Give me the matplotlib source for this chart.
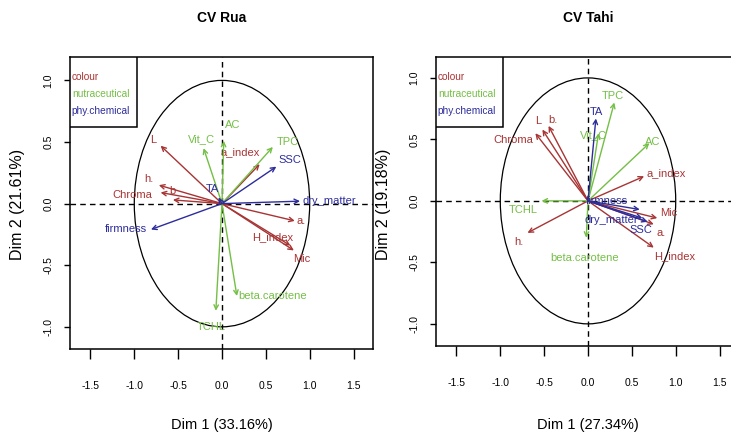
import matplotlib
matplotlib.use("Agg")
import matplotlib.pyplot as plt
from matplotlib import font_manager
from matplotlib.patches import Circle, Rectangle

# police étroite si disponible (les textes R sont assez condensés)
noms = {f.name for f in font_manager.fontManager.ttflist}
etroite = "Liberation Sans Narrow" if "Liberation Sans Narrow" in noms else "Liberation Sans"
plt.rcParams["font.family"] = ["Liberation Sans", "DejaVu Sans"]
plt.rcParams["axes.unicode_minus"] = False

groups = ["colour", "nutraceutical", "phy.chemical"]
group_colors = {"colour": "#A83434", "nutraceutical": "#74BF45", "phy.chemical": "#2C2C9C"}

# CV Rua
rua_vars = ["L", "h.", "Chroma", "b", "a.", "H_index", "Mic", "a_index",
            "AC", "Vit_C", "TPC", "beta.carotene", "TCHL",
            "TA", "SSC", "dry_matter", "firmness"]
rua_dim1 = [-0.70, -0.72, -0.70, -0.56, 0.83, 0.78, 0.82, 0.43,
            0.02, -0.21, 0.58, 0.17, -0.07,
            -0.04, 0.62, 0.89, -0.81]
rua_dim2 = [0.47, 0.15, 0.09, 0.03, -0.14, -0.34, -0.38, 0.32,
            0.51, 0.45, 0.46, -0.75, -0.87,
            0.05, 0.30, 0.02, -0.21]
rua_group = ["colour"] * 8 + ["nutraceutical"] * 5 + ["phy.chemical"] * 4

# CV Tahi
tahi_vars = ["L", "b.", "Chroma", "h.", "a_index", "Mic", "a.", "H_index",
             "TPC", "AC", "Vit_C", "TCHL", "beta.carotene",
             "TA", "firmness", "dry_matter", "SSC"]
tahi_dim1 = [-0.52, -0.45, -0.60, -0.69, 0.64, 0.79, 0.75, 0.75,
             0.30, 0.70, 0.12, -0.53, -0.02,
             0.09, 0.59, 0.62, 0.68]
tahi_dim2 = [0.58, 0.61, 0.55, -0.26, 0.20, -0.14, -0.19, -0.38,
             0.80, 0.47, 0.55, 0.00, -0.30,
             0.67, -0.07, -0.14, -0.17]
tahi_group = ["colour"] * 8 + ["nutraceutical"] * 5 + ["phy.chemical"] * 4

# placement des étiquettes (alignement, décalage en pixels)
rua_lab = [("right", -4, 6), ("right", -5, 6), ("right", -8, -2), ("center", 0, 9),
           ("left", 2, 0), ("right", 3, 8), ("left", -1, -9), ("right", 0, 12),
           ("left", 1, 16), ("center", -2, 9), ("left", 4, 5), ("left", 1, 0),
           ("center", -5, -16),
           ("center", -6, 8), ("left", 2, 7), ("left", 2, 0), ("right", -4, 0)]
tahi_lab = [("center", -4, 9), ("left", 0, 6), ("right", -2, -7), ("right", -4, -9),
            ("left", 2, 3), ("left", 3, 5), ("left", 3, -9), ("left", 0, -9),
            ("center", -1, 7), ("left", -4, 1), ("center", -5, -2), ("right", -4, -9),
            ("center", -2, -20),
            ("center", 0, 6), ("right", -12, 8), ("right", -4, -2), ("right", 5, -8)]

W, H = 731, 436
fig = plt.figure(figsize=(W / 100, H / 100), dpi=100)


def panel(rect, xlim, ylim, title, xlab, ylab, names, d1, d2, grp, labs):
    l, t, r, b = rect
    ax = fig.add_axes([l / W, (H - b) / H, (r - l) / W, (b - t) / H])
    ax.set_xlim(*xlim)
    ax.set_ylim(*ylim)
    for s in ax.spines.values():
        s.set_linewidth(1.1)
    ax.axhline(0, color="black", lw=1, ls=(0, (4, 3)))
    ax.axvline(0, color="black", lw=1, ls=(0, (4, 3)))
    ax.add_patch(Circle((0, 0), 1, fill=False, ec="black", lw=0.9))

    for n, x, y, g, (ha, dx, dy) in zip(names, d1, d2, grp, labs):
        c = group_colors[g]
        ax.annotate("", xy=(x, y), xytext=(0, 0),
                    arrowprops=dict(arrowstyle="->", color=c, lw=1.0,
                                    shrinkA=0, shrinkB=0, mutation_scale=8))
        ax.annotate(n, xy=(x, y), xytext=(dx * 0.72, dy * 0.72),
                    textcoords="offset points", ha=ha, va="center",
                    color=c, fontsize=8, family=etroite)

    # légende en haut à gauche
    lw_, lh_ = 67 / (r - l), 70 / (b - t)
    ax.add_patch(Rectangle((0, 1 - lh_), lw_, lh_, transform=ax.transAxes,
                           fill=True, fc="white", ec="black", lw=1.1, zorder=5))
    for i, g in enumerate(groups):
        ax.text(0.006, 1 - (20 + 17 * i) / (b - t), g, transform=ax.transAxes,
                color=group_colors[g], fontsize=7.3, family=etroite,
                ha="left", va="center", zorder=6)

    ax.set_xticks([-1.5, -1.0, -0.5, 0.0, 0.5, 1.0, 1.5])
    ax.set_yticks([-1.0, -0.5, 0.0, 0.5, 1.0])
    ax.tick_params(axis="x", length=7, width=1, pad=16, labelsize=7.5)
    ax.tick_params(axis="y", length=4, width=1, pad=8, labelsize=7.5)
    for lab in ax.get_xticklabels() + ax.get_yticklabels():
        lab.set_family(etroite)
    for lab in ax.get_yticklabels():
        lab.set_rotation(90)
        lab.set_va("center")

    ax.set_title(title, fontsize=10, fontweight="bold", family=etroite, pad=25)
    ax.set_xlabel(xlab, fontsize=10.5, family=etroite)
    ax.xaxis.set_label_coords(0.5, -(418 - b) / (b - t))
    ax.set_ylabel(ylab, fontsize=11.5)
    ax.yaxis.set_label_coords(-45 / (r - l), 0.5 + (((t + b) / 2) - 204) / (b - t))
    return ax


panel((70, 57, 373, 349), (-1.733, 1.722), (-1.18, 1.19), "CV Rua",
      "Dim 1 (33.16%)", "Dim 2 (21.61%)",
      rua_vars, rua_dim1, rua_dim2, rua_group, rua_lab)
panel((436, 57, 740, 346), (-1.733, 1.733), (-1.18, 1.17), "CV Tahi",
      "Dim 1 (27.34%)", "Dim 2 (19.18%)",
      tahi_vars, tahi_dim1, tahi_dim2, tahi_group, tahi_lab)

fig.savefig("out.png", dpi=100)
